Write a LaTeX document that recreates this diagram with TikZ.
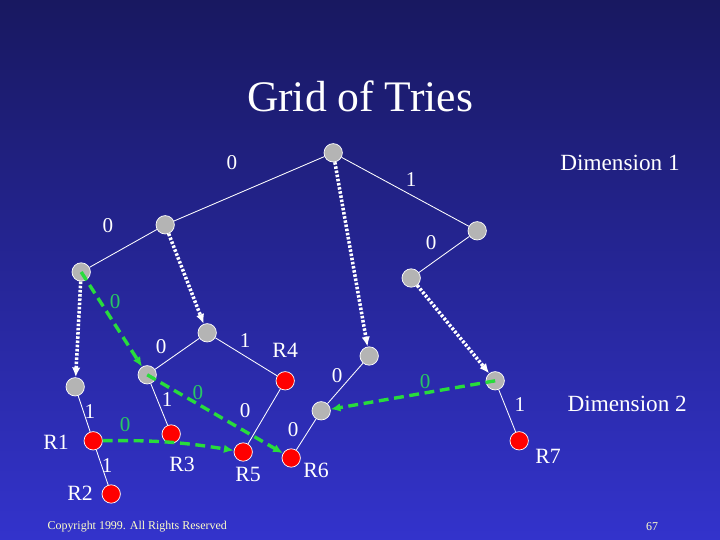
\documentclass[tikz,border=0pt]{standalone}
\usepackage{fontspec}
\setmainfont{Liberation Serif}
\usepackage{tikz}
\usetikzlibrary{arrows.meta,positioning}
\usepackage{xcolor}
\definecolor{bgtop}{RGB}{24,24,96}
\definecolor{bgbot}{RGB}{51,51,204}
\definecolor{ptrgreen}{RGB}{40,220,60}
\definecolor{ptrlabel}{RGB}{40,200,100}
\definecolor{trienode}{RGB}{180,180,180}
\definecolor{copytext}{RGB}{255,255,200}

\begin{document}
\begin{tikzpicture}[every node/.style={font=\fontsize{15}{16}\selectfont, text=white},
  trie/.style={circle, draw=white, line width=0.5pt, fill=trienode, minimum size=0.46cm, inner sep=0pt},
  rule/.style={circle, draw=white, line width=0.5pt, fill=red, minimum size=0.46cm, inner sep=0pt},
  edge/.style={white, line width=0.6pt},
  jump/.style={white, line width=2.5pt, dash pattern=on 1.8pt off 1.2pt, -{Latex[length=7pt,width=6pt]}},
  switch/.style={ptrgreen, line width=2.4pt, dash pattern=on 7pt off 4pt, -{Latex[length=7pt,width=6pt]}},
  rname/.style={font=\fontsize{15.5}{17}\selectfont},
  glabel/.style={text=ptrlabel}]
\shade[top color=bgtop, bottom color=bgbot] (0,0) rectangle (18,13.5);
\useasboundingbox (0,0) rectangle (18,13.5);

\node[font=\fontsize{31}{36}\selectfont] (title) at (9.00,11.10) {Grid of Tries};

\begin{scope}
  \node[trie] (a) at (8.33,9.68) {};
  \node[trie] (a0) at (4.13,7.88) {};
  \node[trie] (a1) at (11.93,7.73) {};
  \node[trie] (a00) at (2.03,6.70) {};
  \node[trie] (a10) at (10.28,6.55) {};
  \draw[edge] (a) -- (a0);
  \draw[edge] (a) -- (a1);
  \draw[edge] (a0) -- (a00);
  \draw[edge] (a1) -- (a10);
  \node (l1) at (5.80,9.43) {0};
  \node (l2) at (10.28,9.00) {1};
  \node (l3) at (2.70,7.85) {0};
  \node (l4) at (10.78,7.43) {0};
  \node[font=\fontsize{16.5}{18}\selectfont] (dim1) at (15.50,9.43) {Dimension 1};
\end{scope}

\begin{scope}
  \node[trie] (b) at (1.88,3.83) {};
  \node[rule] (r1) at (2.33,2.48) {};
  \node[rule] (r2) at (2.78,1.15) {};
  \draw[edge] (b) -- (r1);
  \draw[edge] (r1) -- (r2);
  \node (l5) at (2.25,3.20) {1};
  \node (l6) at (2.68,1.85) {1};
  \node[rname] (n1) at (1.40,2.43) {R1};
  \node[rname] (n2) at (2.00,1.18) {R2};
\end{scope}

\begin{scope}
  \node[trie] (c) at (5.18,5.18) {};
  \node[trie] (c0) at (3.68,4.13) {};
  \node[rule] (r3) at (4.28,2.65) {};
  \node[rule] (r4) at (7.13,3.98) {};
  \node[rule] (r5) at (6.08,2.20) {};
  \draw[edge] (c) -- (c0);
  \draw[edge] (c) -- (r4);
  \draw[edge] (c0) -- (r3);
  \draw[edge] (r4) -- (r5);
  \node (l7) at (4.03,4.83) {0};
  \node (l8) at (6.13,4.98) {1};
  \node (l9) at (4.18,3.50) {1};
  \node (l10) at (6.13,3.23) {0};
  \node[rname] (n3) at (4.55,1.90) {R3};
  \node[rname] (n4) at (7.13,4.75) {R4};
  \node[rname] (n5) at (6.20,1.63) {R5};
\end{scope}

\begin{scope}
  \node[trie] (d) at (9.23,4.60) {};
  \node[trie] (d0) at (8.03,3.23) {};
  \node[rule] (r6) at (7.28,2.05) {};
  \draw[edge] (d) -- (d0);
  \draw[edge] (d0) -- (r6);
  \node (l11) at (8.43,4.10) {0};
  \node (l12) at (7.33,2.75) {0};
  \node[rname] (n6) at (7.90,1.75) {R6};
\end{scope}

\begin{scope}
  \node[trie] (e) at (12.38,3.98) {};
  \node[rule] (r7) at (12.98,2.48) {};
  \draw[edge] (e) -- (r7);
  \node (l13) at (13.00,3.38) {1};
  \node[rname] (n7) at (13.70,2.08) {R7};
  \node[font=\fontsize{16.5}{18}\selectfont] (dim2) at (15.68,3.40) {Dimension 2};
\end{scope}

\draw[jump] (a00) -- (b);
\draw[jump] (a0) -- (c);
\draw[jump] (a) -- (d);
\draw[jump] (a10) -- (e);

\draw[switch] (a00.center) -- (c0);
\draw[switch] (c0.center) -- (r6);
\draw[switch] (r1) to[bend left=5] (r5);
\draw[switch] (e.center) -- (d0);
\node[glabel] (g1) at (2.88,5.95) {0};
\node[glabel] (g2) at (4.95,3.68) {0};
\node[glabel] (g3) at (3.13,2.88) {0};
\node[glabel] (g4) at (10.63,3.95) {0};

\node[text=copytext, font=\fontsize{8.5}{10}\selectfont] (copy) at (3.43,0.33) {Copyright 1999. All Rights Reserved};
\node[text=copytext, font=\fontsize{8.5}{10}\selectfont] (page) at (16.30,0.33) {67};
\end{tikzpicture}
\end{document}
